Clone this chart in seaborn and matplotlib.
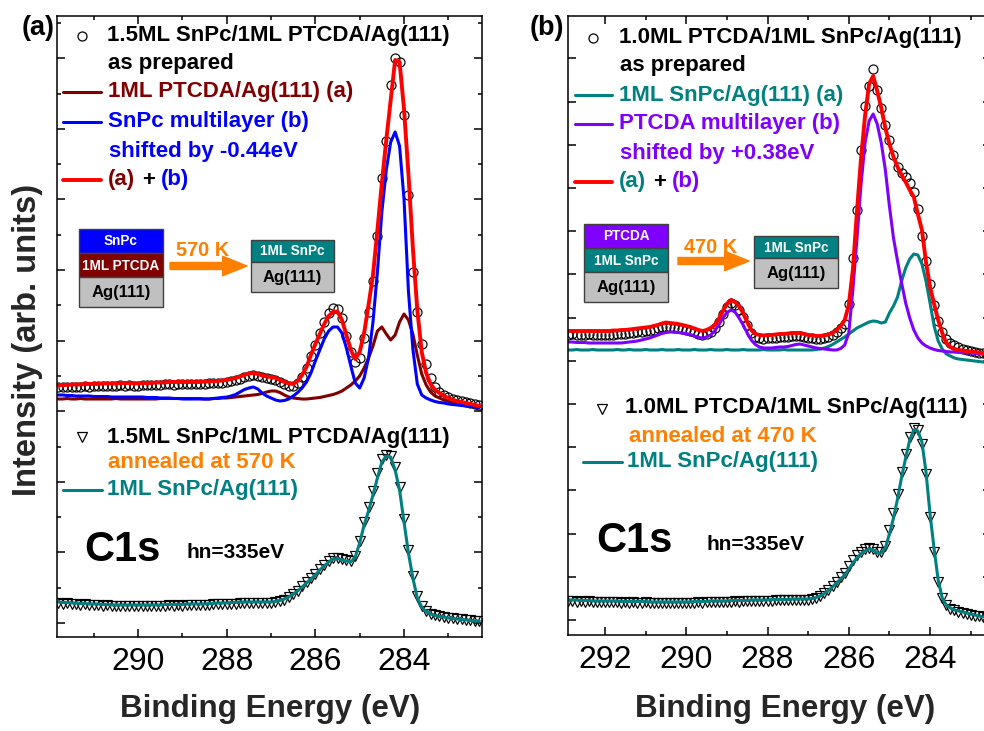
import numpy as np
import matplotlib
matplotlib.use("Agg")
import matplotlib.pyplot as plt
from matplotlib.lines import Line2D
from matplotlib.patches import Rectangle, FancyArrowPatch
from matplotlib.ticker import MultipleLocator, NullLocator
import seaborn as sns

sns.set_style("ticks")
plt.rcParams["font.family"] = ["Liberation Sans", "DejaVu Sans"]

# ---------------- C1s spectra (arb. units), 0.1 eV sampling ----------------
be_a = np.round(np.linspace(291.8, 282.3, 96), 1)
be_b = np.round(np.linspace(292.9, 282.5, 105), 1)

# (a) 1.5ML SnPc/1ML PTCDA/Ag(111), as prepared
asprep_a = [236, 236.5, 236, 236, 236.5, 236, 237, 236.5, 237, 237,
            237.5, 237, 237.5, 237.5, 238, 237.5, 238, 237.5, 237.5, 238,
            238, 238.5, 238, 238.5, 239, 239, 238.5, 239, 239, 239.5,
            239, 239.5, 239.5, 239.5, 240, 240, 240.5, 240.5, 241, 242,
            243, 244.5, 246, 247.5, 248, 247.5, 246, 245, 244, 243,
            241, 239, 237.5, 237, 240, 246, 255, 267, 278, 290,
            301, 310, 315, 314, 305, 287, 271, 261, 265, 285,
            311, 342, 387, 445, 482, 538, 565, 561, 508, 428,
            351, 311, 279, 259, 245, 236, 231, 228, 226, 224,
            223, 222, 221, 220, 219, 218]
fit_a = [238, 238, 238, 238.5, 238.5, 238.5, 239, 239, 239, 239,
         239.5, 239.5, 239.5, 239.5, 240, 240, 240, 239.5, 239.5, 240,
         240, 240, 240.5, 240.5, 240.5, 241, 241, 241, 241, 241,
         241, 241, 241, 241.5, 241.5, 242, 242, 242.5, 243, 244,
         245, 246.5, 248, 249.5, 250, 249, 247.5, 246.5, 246, 245,
         243, 241, 239.5, 239, 242, 248, 256, 268, 279, 289,
         299, 307, 311, 311.5, 303, 288, 273, 264, 271, 290,
         318, 348, 393, 440, 483, 523, 563, 561, 514, 449,
         375, 313, 271, 250, 239, 233, 230, 227, 225, 223,
         222, 221, 220, 219, 218, 217]
ptcda1ml_a = [224, 224, 224.5, 224, 224, 224.5, 224, 224, 224, 224,
              224, 224, 224, 224.5, 224, 224, 224, 224, 224, 224,
              224, 224, 224, 224.5, 224.5, 224.5, 224.5, 224.5, 224.5, 224.5,
              224.5, 224.5, 224.5, 224, 224, 224.5, 224.5, 225, 225, 225.5,
              226, 226.5, 227, 227.5, 228, 228.5, 229.5, 231, 232, 232,
              230.5, 228, 226, 225, 224.5, 224, 224, 224.5, 225, 225.5,
              226.5, 227.5, 228.5, 230, 232, 235, 238, 242, 247, 255,
              265, 277, 292, 296, 289, 283, 288, 301, 309, 303,
              289, 268, 249, 238, 231, 227, 225, 223, 222, 221,
              220, 219, 218, 217.5, 217, 216]
snpc_multi_a = [228, 228, 227.5, 227.5, 227, 227, 227, 227, 226.5, 226.5,
                226.5, 226.5, 226, 226, 226, 226, 226, 226, 226, 226,
                225.5, 225.5, 225.5, 225, 225, 225, 224.5, 224.5, 224, 224,
                224, 224, 224, 224, 224, 224.5, 225, 225.5, 226, 227,
                228.5, 231, 233.5, 235, 236, 234, 230, 227, 225, 223,
                222, 222.5, 224, 227, 230.5, 235, 241, 250, 262, 273,
                284, 292, 296, 296, 290, 275, 257, 240, 235, 245,
                265, 301, 351, 411, 453, 481, 491, 477, 424, 332,
                274, 239, 228, 225, 223, 221.5, 220.5, 220, 219, 218.5,
                218, 217.5, 217, 216.5, 216, 215.5]
# (a) annealed at 570 K and 1ML SnPc/Ag(111) reference
anneal_a = [20, 19.5, 20, 19, 19.5, 18.5, 19, 18, 18.5, 18,
            17.5, 18, 17, 17.5, 17, 17.5, 17, 17.5, 17, 17.5,
            17, 17.5, 17, 17.5, 17.5, 18, 17.5, 18, 17.5, 18,
            18, 18.5, 18, 18.5, 18.5, 19, 19, 19.5, 19, 19.5,
            19.5, 20, 20, 20, 20.5, 20, 20.5, 20, 20.5, 21,
            22, 23.5, 26, 29, 32.5, 37, 41, 45, 49.5, 54,
            58, 62, 65, 65, 64, 63, 62, 67, 82, 101,
            116, 132, 150, 164, 168, 167, 156, 136, 104, 73,
            47, 27, 17, 12, 9.5, 8, 7, 6, 5.5, 5,
            4.5, 4, 3.5, 3, 2.5, 2]
snpc1ml_a = [21, 20.5, 20.5, 20, 20, 19.5, 19.5, 19, 19, 19,
             18.5, 18.5, 18, 18, 18, 18, 18, 18, 18, 18,
             18, 18, 18, 18, 18.5, 18.5, 18.5, 18.5, 18.5, 19,
             19, 19, 19, 19, 19.5, 19.5, 20, 20, 20, 20.5,
             20.5, 21, 21, 21, 21, 21, 21, 21, 21, 21.5,
             22.5, 24, 26, 29, 32, 36, 40, 44, 48, 53,
             57, 61, 64, 64.5, 63, 62, 61, 66, 80, 98,
             112, 128, 145, 161, 167, 166, 153, 133, 101, 70,
             45, 25, 16, 11, 9, 7.5, 6.5, 6, 5, 4.5,
             4, 3.5, 3, 2.5, 2, 2]

# (b) 1.0ML PTCDA/1ML SnPc/Ag(111), as prepared
asprep_b = [285.5, 286, 285, 285.5, 285, 286, 285.5, 285, 285.5, 285,
            285.5, 285, 286, 286.5, 286, 287, 287.5, 288, 288.5, 289,
            289.5, 290.5, 292, 293, 293.5, 293, 292.5, 292, 291, 290,
            289, 288, 286.5, 285.5, 286.5, 288.5, 292, 298, 306, 313,
            317, 315, 310, 303, 295, 287, 283, 282, 281.5, 282,
            282, 282.5, 283, 283, 283.5, 284, 284.5, 284, 283, 282.5,
            282, 281.5, 281.5, 282, 283, 285, 288, 292, 296, 316,
            362, 410, 470, 514, 534, 551, 530, 512, 495, 480,
            465, 453, 447, 443, 437, 428, 411, 384, 359, 336,
            315, 299, 288, 281, 277, 275, 273, 271, 270, 269,
            268, 267.5, 267, 266, 265.5]
fit_b = [289, 289, 289, 289, 289, 289, 289, 289, 289, 289,
         289, 289.5, 289.5, 290, 290, 290.5, 291, 291.5, 292, 292.5,
         293, 294, 295, 296.5, 297.5, 297, 296.5, 296, 295, 294,
         293, 291.5, 290, 289, 290, 292, 295, 301, 309, 316,
         320, 318, 314, 307, 298, 290, 286, 285, 284.5, 285,
         285, 285.5, 286, 286, 286.5, 287, 287, 287, 286, 285,
         284.5, 284, 284, 284.5, 285.5, 287, 290, 294, 300, 315,
         350, 408, 461, 504, 536, 544, 529, 512, 492, 476,
         463, 453, 445, 438, 430, 423, 406, 390, 358, 333,
         316, 300, 287, 277, 273, 271, 270, 269.5, 269, 268.5,
         268, 267.5, 267, 266.5, 266]
snpc1ml_top_b = [270, 270, 270.5, 270, 270, 270, 270.5, 270, 270, 270,
                 270, 270, 270.5, 270, 270, 270.5, 270, 270, 270, 270.5,
                 270, 270, 270, 270.5, 270, 270, 270, 270.5, 270, 270,
                 270, 270.5, 270, 270, 270, 270.5, 270, 270, 270, 270.5,
                 270, 270, 270, 270.5, 270, 270, 270, 270, 270.5, 270,
                 270, 270, 270, 270.5, 270, 270, 270, 270, 270, 270,
                 270, 270.5, 271, 272, 273.5, 275.5, 278, 280.5, 283, 286,
                 289, 292, 294, 296, 298, 299, 298.5, 297, 298, 307,
                 314, 323, 339, 352, 361, 366, 365, 356, 339, 317,
                 294, 279, 271, 266, 264, 262, 261, 260.5, 260, 259.5,
                 259, 258.5, 258, 258, 257.5]
ptcda_multi_b = [278, 278, 277.5, 277.5, 277.5, 277, 277, 277, 277, 277,
                 277, 277, 277, 277, 277.5, 278, 278.5, 279, 280, 281,
                 282, 283.5, 285, 286.5, 287.5, 288, 288, 287.5, 287, 286.5,
                 285.5, 284, 282.5, 282, 283, 285, 289, 295, 302, 307.5,
                 310, 308, 302, 295, 287, 280, 275.5, 273, 272, 272,
                 272, 272.5, 273, 273, 273.5, 274.5, 275.5, 276, 275, 274,
                 273, 272, 271.5, 271, 270.5, 270, 270, 271.5, 275, 287,
                 330, 380, 435, 477, 499, 506, 496, 477, 450, 414,
                 382, 359, 337, 317, 302, 290, 282, 277, 274, 272,
                 270.5, 269.5, 269, 268.5, 268, 268, 267.5, 267.5, 267, 267,
                 266.5, 266, 266, 265.5, 265]
# (b) annealed at 470 K and 1ML SnPc/Ag(111) reference
anneal_b = [19, 19.5, 18.5, 19, 18.5, 19, 18, 18.5, 18, 18.5,
            18, 18.5, 18, 17.5, 18, 17.5, 18, 17.5, 17.5, 18,
            17, 17.5, 17, 17.5, 17, 17.5, 17, 17.5, 17, 17.5,
            17.5, 17.5, 18, 17.5, 18, 18, 18.5, 18, 18.5, 18.5,
            18.5, 19, 18.5, 19, 19, 19, 19.5, 19, 19.5, 19.5,
            19.5, 20, 20, 20, 20, 20.5, 20, 20.5, 20.5, 20.5,
            21, 22, 24, 27, 30.5, 34, 38.5, 43, 47, 54,
            60, 65, 68.5, 71, 72, 71, 68.5, 68, 74, 90,
            107, 126, 148, 166, 183, 192, 190, 176, 146, 103,
            68, 38, 22, 15, 11.5, 10, 8.5, 7.5, 6.5, 5.5,
            4.5, 4, 3, 2.5, 2]
snpc1ml_b = [20, 20, 20, 19.5, 19.5, 19.5, 19, 19, 19, 19,
             19, 19, 19, 18.5, 18.5, 18.5, 18.5, 18.5, 18.5, 18.5,
             18, 18, 18, 18, 18, 18, 18, 18, 18, 18,
             18, 18.5, 18.5, 18.5, 18.5, 19, 19, 19, 19, 19,
             19.5, 19.5, 19.5, 19.5, 19.5, 20, 20, 20, 20, 20,
             20.5, 20.5, 20.5, 20.5, 20.5, 21, 21, 21, 21, 21,
             21.5, 22.5, 24, 26.5, 29.5, 33, 37, 41, 45, 51,
             57, 62, 66, 69, 71, 70, 67, 67, 72, 86,
             102, 121, 143, 162, 180, 190, 189, 178, 148, 106,
             71, 40, 22, 15, 12, 10, 9, 8, 7, 6,
             5, 4, 3, 3, 2.5]

x_ticks_major = 2
x_ticks_minor = 1

MAROON, BLUE, RED = "#800000", "#0000ff", "#ff0000"
TEAL, PURPLE, ORANGE, GRAY = "#008080", "#8000ff", "#ff8000", "#c0c0c0"

W, H = 984, 731
fig = plt.figure(figsize=(W / 100, H / 100), dpi=100)
ax_a = fig.add_axes([57 / W, 1 - 637 / H, 425 / W, 621 / H])
ax_b = fig.add_axes([568 / W, 1 - 635 / H, 423 / W, 619 / H])


def curve(ax, x, y, color, lw=2.2):
    sns.lineplot(x=x, y=y, ax=ax, color=color, linewidth=lw,
                 estimator=None, legend=False)


def points(ax, x, y, marker, ms):
    sns.lineplot(x=x, y=y, ax=ax, color="black", linestyle="none",
                 marker=marker, markersize=ms, markerfacecolor="none",
                 markeredgecolor="black", markeredgewidth=0.85,
                 estimator=None, legend=False)


# panel (a)
points(ax_a, be_a, asprep_a, "o", 6.5)
curve(ax_a, be_a, ptcda1ml_a, MAROON)
curve(ax_a, be_a, snpc_multi_a, BLUE)
curve(ax_a, be_a, fit_a, RED, 2.8)
points(ax_a, be_a, anneal_a, "v", 6.5)
curve(ax_a, be_a, snpc1ml_a, TEAL)

# panel (b)
points(ax_b, be_b, asprep_b, "o", 6.5)
curve(ax_b, be_b, snpc1ml_top_b, TEAL)
curve(ax_b, be_b, ptcda_multi_b, PURPLE)
curve(ax_b, be_b, fit_b, RED, 2.8)
points(ax_b, be_b, anneal_b, "v", 6.5)
curve(ax_b, be_b, snpc1ml_b, TEAL)

for ax in (ax_a, ax_b):
    ax.set_facecolor("white")
    for s in ax.spines.values():
        s.set_linewidth(1.1)
        s.set_color("black")
    ax.xaxis.set_major_locator(MultipleLocator(x_ticks_major))
    ax.xaxis.set_minor_locator(MultipleLocator(x_ticks_minor))
    ax.tick_params(which="both", direction="in", top=True, right=True,
                   width=1.1, colors="black")
    ax.tick_params(which="major", length=6)
    ax.tick_params(which="minor", length=3)
    ax.tick_params(axis="x", which="major", labelsize=23, pad=7)
    ax.tick_params(axis="y", labelleft=False)
    ax.set_ylabel("")
    ax.set_xlabel("Binding Energy (eV)", fontsize=22.6, fontweight="bold")
    ax.xaxis.label.set_va("center")

ax_a.set_xlim(291.83, 282.24)
ax_a.set_ylim(-14, 607)
ax_a.yaxis.set_major_locator(MultipleLocator(70.6))
ax_a.yaxis.set_minor_locator(MultipleLocator(35.3))
ax_a.xaxis.set_label_coords((270 - 57) / 425, -(709 - 637) / 621)
ax_a.set_ylabel("Intensity (arb. units)", fontsize=23.5, fontweight="bold")
ax_a.yaxis.label.set_va("center")
ax_a.yaxis.set_label_coords((28 - 57) / 425, (637 - 340) / 621)

ax_b.set_xlim(292.91, 282.5)
ax_b.set_ylim(-15, 604)
ax_b.yaxis.set_major_locator(MultipleLocator(43.2))
ax_b.yaxis.set_minor_locator(NullLocator())
ax_b.xaxis.set_label_coords((785 - 568) / 423, -(709 - 635) / 619)


# ---------------- annotations in figure pixels ----------------
def txt(px, py, s, color="black", size=16, ha="left", weight="bold"):
    fig.text(px / W, 1 - py / H, s, color=color, fontsize=size,
             fontweight=weight, ha=ha, va="center")


def key_line(x0, x1, py, color, lw=2.2):
    fig.add_artist(Line2D([x0 / W, x1 / W], [1 - py / H] * 2,
                          transform=fig.transFigure, color=color, lw=lw))


def key_marker(px, py, marker):
    fig.add_artist(Line2D([px / W], [1 - py / H], transform=fig.transFigure,
                          marker=marker, ms=6.5, mfc="none", mec="black",
                          mew=0.9, ls="none"))


def layer(x0, x1, y0, y1, color, label, tcolor, size):
    fig.add_artist(Rectangle((x0 / W, 1 - y1 / H), (x1 - x0) / W,
                             (y1 - y0) / H, transform=fig.transFigure,
                             facecolor=color, edgecolor="#404040", lw=1))
    txt((x0 + x1) / 2, (y0 + y1) / 2 + 0.5, label, tcolor, size, ha="center")


def arrow(x0, x1, py):
    fig.add_artist(FancyArrowPatch(
        (x0 / W, 1 - py / H), (x1 / W, 1 - py / H),
        transform=fig.transFigure, color=ORANGE, shrinkA=0, shrinkB=0,
        arrowstyle="simple,head_length=1.25,head_width=1.0,tail_width=0.36",
        mutation_scale=14))


# panel (a) labels
txt(38, 28, "(a)", size=19.5, ha="center")
key_marker(82, 36, "o")
txt(107, 36, "1.5ML SnPc/1ML PTCDA/Ag(111)")
txt(108, 64, "as prepared")
key_line(63, 101, 92, MAROON)
txt(108, 92, "1ML PTCDA/Ag(111) (a)", MAROON)
key_line(63, 101, 122, BLUE)
txt(108, 122, "SnPc multilayer (b)", BLUE)
txt(109, 151, "shifted by -0.44eV", BLUE)
key_line(63, 101, 180, RED, 2.8)
txt(108, 180, "(a)", MAROON)
txt(142, 180, "+")
txt(161, 180, "(b)", BLUE)

layer(79, 163, 229, 253, BLUE, "SnPc", "white", 9.8)
layer(79, 163, 253, 277, MAROON, "1ML PTCDA", "white", 9.8)
layer(79, 163, 277, 307, GRAY, "Ag(111)", "black", 12)
arrow(170, 247, 266)
txt(203, 250, "570 K", ORANGE, 14.3, ha="center")
layer(251, 334, 240, 262, TEAL, "1ML SnPc", "white", 9.8)
layer(251, 334, 262, 292, GRAY, "Ag(111)", "black", 12)

key_marker(82, 437, "v")
txt(107, 437, "1.5ML SnPc/1ML PTCDA/Ag(111)")
txt(108, 463, "annealed at 570 K", ORANGE)
key_line(63, 102, 490, TEAL)
txt(107, 490, "1ML SnPc/Ag(111)", TEAL)
txt(84, 550, "C1s", size=30)
txt(187, 553, "hn=335eV", size=15)

# panel (b) labels
txt(547, 28, "(b)", size=19.5, ha="center")
key_marker(593, 38, "o")
txt(619, 38, "1.0ML PTCDA/1ML SnPc/Ag(111)")
txt(620, 65, "as prepared")
key_line(575, 612, 95, TEAL)
txt(619, 95, "1ML SnPc/Ag(111) (a)", TEAL)
key_line(575, 612, 124, PURPLE)
txt(619, 124, "PTCDA multilayer (b)", PURPLE)
txt(620, 153, "shifted by +0.38eV", PURPLE)
key_line(575, 612, 182, RED, 2.8)
txt(619, 182, "(a)", TEAL)
txt(653, 182, "+")
txt(672, 182, "(b)", PURPLE)

layer(584, 668, 224, 248, PURPLE, "PTCDA", "white", 9.8)
layer(584, 668, 248, 272, TEAL, "1ML SnPc", "white", 9.8)
layer(584, 668, 272, 302, GRAY, "Ag(111)", "black", 12)
arrow(678, 749, 261)
txt(711, 247, "470 K", ORANGE, 14.3, ha="center")
layer(754, 838, 236, 258, TEAL, "1ML SnPc", "white", 9.8)
layer(754, 838, 258, 288, GRAY, "Ag(111)", "black", 12)

key_marker(602, 409, "v")
txt(625, 408, "1.0ML PTCDA/1ML SnPc/Ag(111)")
txt(629, 436, "annealed at 470 K", ORANGE)
key_line(583, 622, 462, TEAL)
txt(627, 462, "1ML SnPc/Ag(111)", TEAL)
txt(596, 541, "C1s", size=30)
txt(707, 545, "hn=335eV", size=15)

fig.savefig("out.png", dpi=100, facecolor="white")
